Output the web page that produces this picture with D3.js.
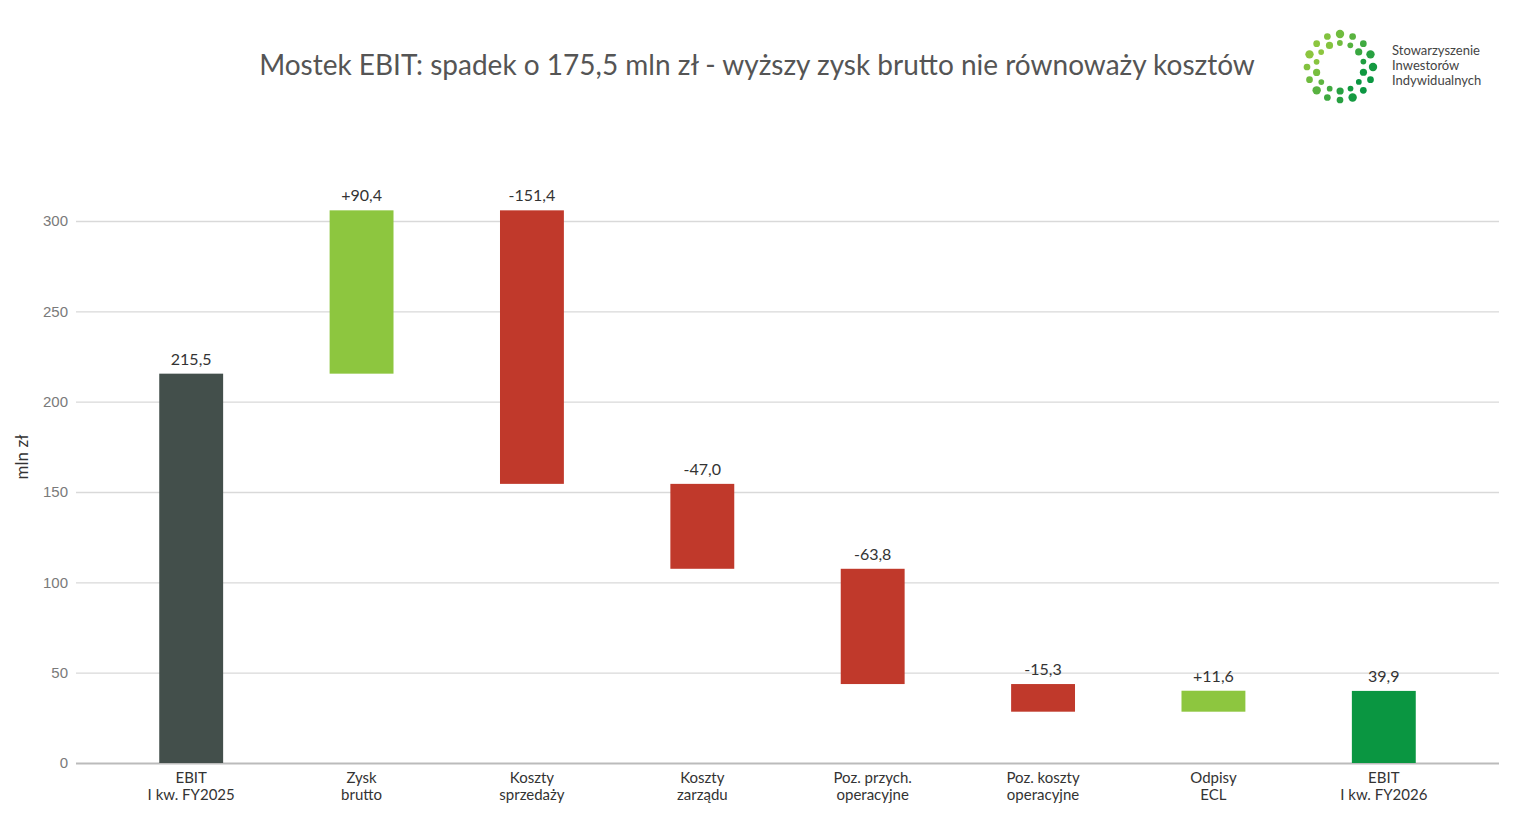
<!DOCTYPE html>
<html lang="pl">
<head>
<meta charset="UTF-8">
<title>Mostek EBIT</title>
<script src="https://d3js.org/d3.v7.min.js"></script>
<style>
  body { margin: 0; background: #fff; font-family: Lato, "Open Sans", sans-serif; }
  .tick text { font-size: 15px; fill: #7a7a7a; }
</style>
</head>
<body>
<svg width="1514" height="818"></svg>
<script>
// data
const categories = [
  ["EBIT", "I kw. FY2025"],
  ["Zysk", "brutto"],
  ["Koszty", "sprzedaży"],
  ["Koszty", "zarządu"],
  ["Poz. przych.", "operacyjne"],
  ["Poz. koszty", "operacyjne"],
  ["Odpisy", "ECL"],
  ["EBIT", "I kw. FY2026"]
];
const deltas = [215.5, 90.4, -151.4, -47.0, -63.8, -15.3, 11.6, 39.9];
const kinds = ["total", "step", "step", "step", "step", "step", "step", "total"];
const labels = ["215,5", "+90,4", "-151,4", "-47,0", "-63,8", "-15,3", "+11,6", "39,9"];
const yTicks = [0, 50, 100, 150, 200, 250, 300];

const colors = { start: "#434f4b", up: "#8dc63f", down: "#c0392b", end: "#0a9641" };

// running totals
let run = 0;
const bars = deltas.map((v, i) => {
  let lo, hi, color;
  if (kinds[i] === "total") {
    lo = 0; hi = v; run = v;
    color = i === 0 ? colors.start : colors.end;
  } else {
    const prev = run;
    run = prev + v;
    lo = Math.min(prev, run); hi = Math.max(prev, run);
    color = v >= 0 ? colors.up : colors.down;
  }
  return { cat: categories[i], key: i, lo, hi, color, label: labels[i] };
});

const svg = d3.select("svg");
const plotL = 76, plotR = 1499, plotT = 221, plotB = 763;

const x = d3.scaleBand().domain(d3.range(categories.length)).range([106, 1469]).paddingInner(0.625).paddingOuter(0.3125);
const y = d3.scaleLinear().domain([0, 300]).range([plotB, plotT]);

// title
svg.append("text")
  .attr("x", 757).attr("y", 75)
  .attr("text-anchor", "middle")
  .style("font-size", "28px").style("fill", "#555")
  .text("Mostek EBIT: spadek o 175,5 mln zł - wyższy zysk brutto nie równoważy kosztów");

// grid + y axis
const yAxis = svg.append("g")
  .attr("transform", `translate(${plotL},0)`)
  .call(d3.axisLeft(y).tickValues(yTicks).tickSize(-(plotR - plotL)).tickPadding(8));
yAxis.select(".domain").remove();
yAxis.selectAll(".tick line").attr("stroke", "#d9d9d9").attr("stroke-width", 1.3);
yAxis.selectAll(".tick").filter(d => d === 0).select("line").attr("stroke", "#bbb").attr("stroke-width", 2);

svg.append("text")
  .attr("transform", "translate(28,457) rotate(-90)")
  .attr("text-anchor", "middle")
  .style("font-size", "17px").style("fill", "#333")
  .text("mln zł");

// bars
svg.selectAll("rect.bar").data(bars).enter().append("rect")
  .attr("class", "bar")
  .attr("x", d => x(d.key))
  .attr("width", x.bandwidth())
  .attr("y", d => y(d.hi))
  .attr("height", d => y(d.lo) - y(d.hi))
  .attr("fill", d => d.color);

svg.selectAll("text.val").data(bars).enter().append("text")
  .attr("class", "val")
  .attr("x", d => x(d.key) + x.bandwidth() / 2)
  .attr("y", d => y(d.hi) - 9)
  .attr("text-anchor", "middle")
  .style("font-size", "16px").style("fill", "#333")
  .text(d => d.label);

// category labels
const cl = svg.selectAll("text.cat").data(bars).enter().append("text")
  .attr("class", "cat")
  .attr("x", d => x(d.key) + x.bandwidth() / 2)
  .attr("y", 783)
  .attr("text-anchor", "middle")
  .style("font-size", "15px").style("fill", "#333");
cl.append("tspan").text(d => d.cat[0]);
cl.append("tspan").attr("x", d => x(d.key) + x.bandwidth() / 2).attr("dy", 17).text(d => d.cat[1]);

// logo
const logo = svg.append("g").attr("transform", "translate(1340,67)");
const greens = d3.scaleLinear().domain([0, 1]).range(["#8dc63f", "#0a9641"]);
[[33, 16, 4.2, 0], [24, 14, 3.6, 0.22]].forEach(([r, n, rad, off]) => {
  for (let k = 0; k < n; k++) {
    const a = k / n * 2 * Math.PI + off;
    logo.append("circle")
      .attr("cx", r * Math.cos(a)).attr("cy", r * Math.sin(a))
      .attr("r", k % 3 === 0 ? rad : rad * 0.8)
      .attr("fill", greens((Math.cos(a - 0.6) + 1) / 2));
  }
});
const lt = svg.append("text").attr("x", 1392).attr("y", 55)
  .style("font-size", "13px").style("fill", "#444");
["Stowarzyszenie", "Inwestorów", "Indywidualnych"].forEach((s, i) =>
  lt.append("tspan").attr("x", 1392).attr("dy", i ? 15 : 0).text(s));
</script>
</body>
</html>
